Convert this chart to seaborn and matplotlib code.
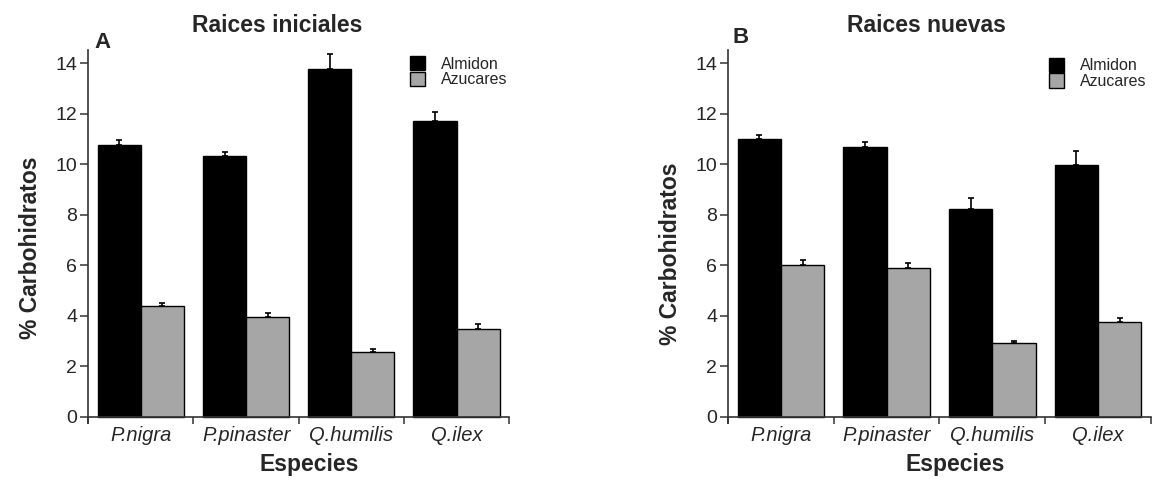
import matplotlib
matplotlib.use("Agg")
import matplotlib.pyplot as plt
from matplotlib.ticker import FixedLocator
import seaborn as sns
import pandas as pd

# Species and carbohydrate fractions
especies = ["P.nigra", "P.pinaster", "Q.humilis", "Q.ilex"]
tipos = ["Almidon", "Azucares"]

# Panel A: initial roots (mean % and standard error)
iniciales_almidon = [10.76, 10.33, 13.78, 11.72]
iniciales_almidon_se = [0.20, 0.17, 0.58, 0.34]
iniciales_azucares = [4.38, 3.94, 2.56, 3.46]
iniciales_azucares_se = [0.14, 0.15, 0.13, 0.21]

# Panel B: new roots (mean % and standard error)
nuevas_almidon = [10.99, 10.69, 8.23, 9.97]
nuevas_almidon_se = [0.16, 0.18, 0.42, 0.54]
nuevas_azucares = [6.00, 5.89, 2.91, 3.75]
nuevas_azucares_se = [0.22, 0.20, 0.11, 0.15]

yticks = [0, 2, 4, 6, 8, 10, 12, 14]

sns.set_style("ticks")
plt.rcParams["font.family"] = ["Liberation Sans", "DejaVu Sans"]

colores = {"Almidon": "#000000", "Azucares": "#a6a6a6"}
eje = "#333333"


def tabla(almidon, azucares, almidon_se, azucares_se):
    filas = []
    for i, esp in enumerate(especies):
        filas.append({"especie": esp, "tipo": "Almidon", "valor": almidon[i], "se": almidon_se[i]})
        filas.append({"especie": esp, "tipo": "Azucares", "valor": azucares[i], "se": azucares_se[i]})
    return pd.DataFrame(filas)


def panel(ax, df, titulo, letra, tx, lx, ly_lab, leg_xy, letra_xy):
    sns.barplot(data=df, x="especie", y="valor", hue="tipo", order=especies,
                hue_order=tipos, palette=colores, width=0.82, errorbar=None,
                edgecolor="black", linewidth=1.0, legend=False, ax=ax)

    # one-sided (upper) standard-error bars centred on each bar
    for tipo, cont in zip(tipos, ax.containers):
        sub = df[df["tipo"] == tipo].set_index("especie").loc[especies]
        xs = [p.get_x() + p.get_width() / 2 for p in cont.patches]
        ax.errorbar(xs, sub["valor"].values,
                    yerr=[[0] * len(xs), sub["se"].values],
                    fmt="none", ecolor="black", elinewidth=1.2,
                    capsize=2.5, capthick=1.2, zorder=1)

    ax.set_xlim(-0.5, len(especies) - 0.5)
    ax.set_ylim(-0.26, 14.53)

    # axis lines first: moving a spine resets the tick objects
    sns.despine(ax=ax)
    ax.spines["bottom"].set_position(("data", 0))
    for s in ("left", "bottom"):
        ax.spines[s].set_color(eje)
        ax.spines[s].set_linewidth(1.2)

    # tick marks at group boundaries, category names at group centres
    ax.set_xticks(range(len(especies)))
    ax.set_xticklabels(especies)
    ax.xaxis.set_minor_locator(FixedLocator([i - 0.5 for i in range(len(especies) + 1)]))
    ax.tick_params(axis="x", which="major", length=0, pad=6.5, labelsize=14.5)
    ax.tick_params(axis="x", which="minor", length=5, width=1.1, color=eje, direction="out")
    ax.set_yticks(yticks)
    ax.set_yticklabels([str(v) for v in yticks])
    ax.tick_params(axis="y", length=6, width=1.1, color=eje, direction="out",
                   labelsize=14, pad=2)
    for lab in ax.get_xticklabels():
        lab.set_fontstyle("italic")

    ax.set_xlabel("Especies", fontsize=16.5, fontweight="bold")
    ax.set_ylabel("% Carbohidratos", fontsize=16.5, fontweight="bold")
    ax.xaxis.set_label_coords(lx, -0.079)
    ax.yaxis.set_label_coords(-0.11, ly_lab)

    ax.text(tx, 1.049, titulo, transform=ax.transAxes, ha="center",
            va="baseline", fontsize=16.5, fontweight="bold")
    ax.text(letra_xy[0], letra_xy[1], letra, transform=ax.transAxes,
            ha="center", va="baseline", fontsize=16, fontweight="bold")

    ax.legend(handles=list(ax.containers), labels=tipos, loc="upper left",
              bbox_to_anchor=leg_xy, frameon=False, fontsize=11.5,
              handlelength=0.95, handleheight=1.0, handletextpad=1.0,
              labelspacing=0.0, borderpad=0.0, borderaxespad=0.0)


fig = plt.figure(figsize=(11.54, 4.82), dpi=100)
ax_a = fig.add_axes([0.0765, 0.1218, 0.3647, 0.7745])
ax_b = fig.add_axes([0.6311, 0.1218, 0.3660, 0.7745])

panel(ax_a,
      tabla(iniciales_almidon, iniciales_azucares, iniciales_almidon_se, iniciales_azucares_se),
      "Raices iniciales", "A", 0.45, 0.524, 0.47, (0.765, 0.984), (0.033, 1.005))
panel(ax_b,
      tabla(nuevas_almidon, nuevas_azucares, nuevas_almidon_se, nuevas_azucares_se),
      "Raices nuevas", "B", 0.468, 0.538, 0.455, (0.759, 0.979), (0.029, 1.019))

fig.savefig("out.png", dpi=100)
